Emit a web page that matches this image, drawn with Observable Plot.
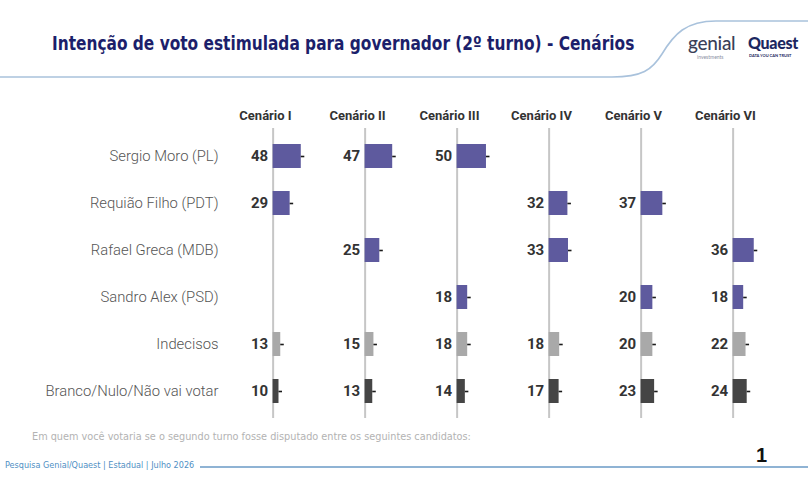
<!DOCTYPE html>
<html>
<head>
<meta charset="utf-8">
<script src="https://cdn.jsdelivr.net/npm/d3@7"></script>
<script src="https://cdn.jsdelivr.net/npm/@observablehq/plot@0.6"></script>
<style>
  html, body { margin: 0; padding: 0; background: #fff; }
  #page { position: relative; width: 808px; height: 498px; overflow: hidden; font-family: Roboto, "Noto Sans", sans-serif; }
  #page > * { position: absolute; }
  #deco { left: 0; top: 0; }
  #title { left: 52px; top: 32px; margin: 0; font-family: "DejaVu Sans Condensed", sans-serif; font-stretch: condensed; font-weight: bold; font-size: 19px; color: #1c1f6b; white-space: nowrap; transform: scaleX(0.9); transform-origin: 0 0; }
  #chart { left: 0; top: 0; }
  #question { left: 32px; top: 430px; font-family: "DejaVu Sans Condensed", sans-serif; font-size: 10.8px; color: #b3b3b3; white-space: nowrap; }
  #source { left: 5px; top: 460px; font-family: "DejaVu Sans Condensed", sans-serif; font-size: 9px; color: #4f8fc4; white-space: nowrap; }
  #page-num { left: 756px; top: 444px; font-family: "Liberation Sans", Arial, sans-serif; font-weight: bold; font-size: 20px; color: #111; }
  .logo { font-family: Lato, "Noto Sans", sans-serif; white-space: nowrap; line-height: 1; }
  #genial { left: 688px; top: 33px; font-size: 19px; font-weight: 500; color: #3a3f58; letter-spacing: -0.3px; }
  #genial-sub { left: 697px; top: 55px; font-size: 5px; color: #8a8fa3; }
  #quaest { left: 748px; top: 35px; font-size: 16px; font-weight: 900; color: #1b2660; letter-spacing: -0.3px; }
  #quaest-sub { left: 749px; top: 54px; font-size: 4px; font-weight: bold; color: #1b2660; }
</style>
</head>
<body>
<div id="page">
  <svg id="deco" width="808" height="498">
    <path d="M0,77 L612,77 C642,77 652,70 662,54 C674,34 686,21 716,21 L808,21" fill="none" stroke="#a9c2dc" stroke-width="1.6"/>
    <line x1="200" y1="467" x2="808" y2="467" stroke="#8fb3d4" stroke-width="1.8"/>
  </svg>
  <h1 id="title">Intenção de voto estimulada para governador (2º turno) - Cenários</h1>
  <div class="logo" id="genial">genial</div>
  <div class="logo" id="genial-sub">investments</div>
  <div class="logo" id="quaest">Quaest</div>
  <div class="logo" id="quaest-sub">DATA YOU CAN TRUST</div>
  <div id="chart"></div>
  <div id="question">Em quem você votaria se o segundo turno fosse disputado entre os seguintes candidatos:</div>
  <div id="source">Pesquisa Genial/Quaest | Estadual | Julho 2026</div>
  <div id="page-num">1</div>
</div>
<script>
// Scenarios (columns) and response options (rows)
const scenarios = ["Cenário I", "Cenário II", "Cenário III", "Cenário IV", "Cenário V", "Cenário VI"];
const options = [
  "Sergio Moro (PL)",
  "Requião Filho (PDT)",
  "Rafael Greca (MDB)",
  "Sandro Alex (PSD)",
  "Indecisos",
  "Branco/Nulo/Não vai votar"
];

// Vote share (%) per option in each scenario; null = not in that scenario
const cenarioI   = [48, 29, null, null, 13, 10];
const cenarioII  = [47, null, 25, null, 15, 13];
const cenarioIII = [50, null, null, 18, 18, 14];
const cenarioIV  = [null, 32, 33, null, 18, 17];
const cenarioV   = [null, 37, null, 20, 20, 23];
const cenarioVI  = [null, null, 36, 18, 22, 24];
const series = [cenarioI, cenarioII, cenarioIII, cenarioIV, cenarioV, cenarioVI];

const rows = [];
series.forEach((vals, i) => {
  vals.forEach((v, j) => {
    if (v != null) rows.push({scenario: scenarios[i], option: options[j], value: v});
  });
});

const colorOf = (o) => o === "Indecisos" ? "#a9a9a9" : o.startsWith("Branco") ? "#454545" : "#5e5a9e";
const capLen = 6; // length of the dash drawn at the end of each bar

const chart = Plot.plot({
  width: 808,
  height: 430,
  marginLeft: 218,
  marginRight: 37,
  marginTop: 128,
  marginBottom: 12,
  style: {fontFamily: "Roboto, sans-serif", background: "transparent"},
  fx: {domain: scenarios, padding: 0.048, label: null},
  x: {domain: [-88, 62], axis: null},
  y: {domain: options, paddingInner: 0.5, paddingOuter: 0.3, label: null, axis: null},
  marks: [
    Plot.axisFx({anchor: "top", tickSize: 0, tickPadding: 9, fontSize: 13, fontWeight: "bold", fill: "#333", label: null}),
    Plot.axisY({anchor: "left", tickSize: 0, tickPadding: 3, fontSize: 14.8, fontWeight: 300, fill: "#555", label: null}),
    Plot.ruleX([0], {stroke: "#c6c6c6", strokeWidth: 2}),
    Plot.barX(rows, {fx: "scenario", y: "option", x1: 0, x2: "value", fill: (d) => colorOf(d.option)}),
    Plot.ruleY(rows, {fx: "scenario", y: "option", x1: "value", x2: (d) => d.value + capLen, stroke: "#1a1a1a", strokeWidth: 1.6}),
    Plot.text(rows, {fx: "scenario", y: "option", x: 0, text: (d) => String(d.value), textAnchor: "end", dx: -5, fontSize: 15, fontWeight: "bold", fill: "#333"})
  ]
});
document.getElementById("chart").appendChild(chart);
</script>
</body>
</html>
